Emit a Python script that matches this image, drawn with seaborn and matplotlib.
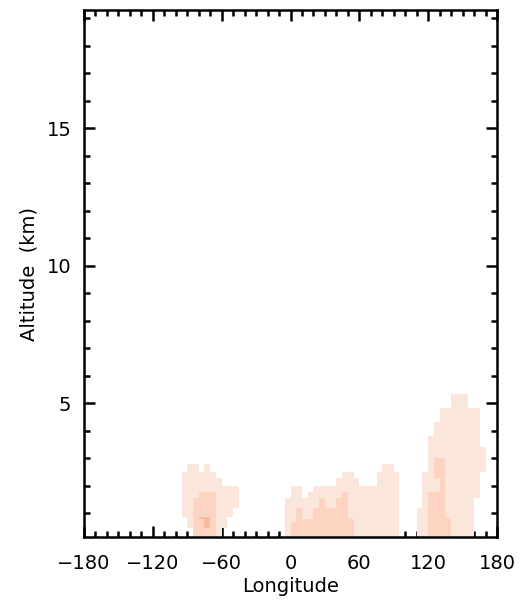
import numpy as np
import matplotlib
matplotlib.use("Agg")
import matplotlib.pyplot as plt
from matplotlib.colors import ListedColormap, BoundaryNorm
from matplotlib.ticker import MultipleLocator
import seaborn as sns

# altitude edges of the model levels (km) and 5 degree longitude bins
alt_edges = [0.13, 0.45, 0.69, 0.78, 0.85, 1.2, 1.55, 1.76, 1.98, 2.27, 2.49,
             2.78, 3.0, 3.4, 3.8, 4.31, 4.82, 5.33]
lon_edges = np.arange(-180, 185, 5)

# cell classes, one string per level from the ground up, one char per 5 deg bin
# '.' empty, '1' low, '2' medium, '3' high
west_start = -95
west = [
    "..22221...",
    ".1223211..",
    ".1223211..",
    ".1233211..",
    "112222111.",
    "1122221111",
    "1112221111",
    "1111111111",
    "1111111...",
    "111111....",
    ".11.1.....",
]
central_start = -5
central = [
    "12222222222211111111",
    "12222222222211111111",
    "11222222222211111111",
    "11211222222111111111",
    "11211222222111111111",
    "11111121122111111111",
    ".11.1111112111111111",
    ".11..111111111111111",
    ".........1111...1111",
    "..........11....1111",
    ".................11.",
]
east_start = 110
east = [
    "1122221111....",
    "1122221111....",
    "1122221111....",
    "1122221111....",
    "1122211111....",
    ".122211111....",
    ".1222111111...",
    ".1112111111...",
    ".1112111111...",
    ".1122111111...",
    "..1221111111..",
    "..1221111111..",
    "..1111111111..",
    "..111111111...",
    "...11111111...",
    "....1111111...",
    "......111.....",
]
level_colors = ["#FAE6DB", "#FCD4C1", "#F7BBA0"]

grid = np.zeros((len(alt_edges) - 1, len(lon_edges) - 1))
for start, block in [(west_start, west), (central_start, central), (east_start, east)]:
    i0 = (start + 180) // 5
    for r, row in enumerate(block):
        for j, ch in enumerate(row):
            if ch != ".":
                grid[r, i0 + j] = int(ch)
grid = np.ma.masked_equal(grid, 0)

sns.set_style("ticks")
plt.rcParams["font.family"] = ["DejaVu Sans"]

fig = plt.figure(figsize=(5.23, 6.04), dpi=100)
ax = fig.add_axes([0.1606, 0.1109, 0.7897, 0.8725])

cmap = ListedColormap(level_colors)
norm = BoundaryNorm([0.5, 1.5, 2.5, 3.5], cmap.N)
ax.pcolormesh(lon_edges, alt_edges, grid, cmap=cmap, norm=norm, linewidth=0)

ax.set_xlim(-180, 180)
ax.set_ylim(0.13, 19.3)
ax.set_xticks([-180, -120, -60, 0, 60, 120, 180])
ax.set_yticks([5, 10, 15])
ax.xaxis.set_minor_locator(MultipleLocator(10))
ax.yaxis.set_minor_locator(MultipleLocator(1))
ax.tick_params(which="both", direction="in", top=True, right=True,
               width=1.8, colors="black", labelcolor="black", labelsize=14)
ax.tick_params(which="major", length=8)
ax.tick_params(axis="x", which="major", pad=12)
ax.tick_params(axis="y", which="major", pad=9)
ax.tick_params(which="minor", length=4)
for s in ax.spines.values():
    s.set_linewidth(1.8)
    s.set_color("black")

ax.set_xlabel("Longitude", fontsize=14, labelpad=3, color="black")
ax.set_ylabel("Altitude  (km)", fontsize=14, labelpad=6, color="black")

fig.savefig("out.png", dpi=100)
